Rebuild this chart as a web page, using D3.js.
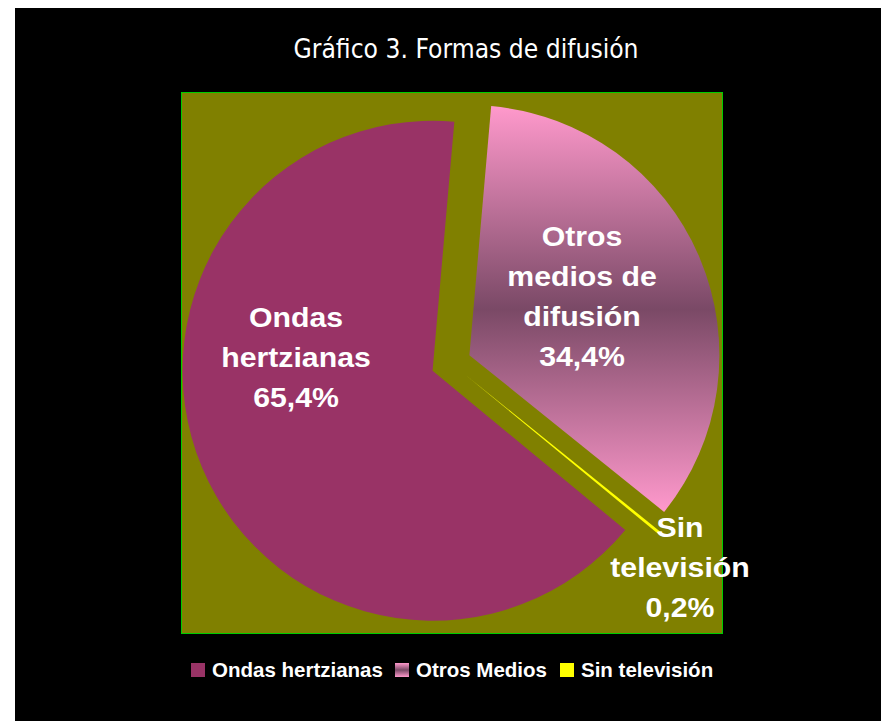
<!DOCTYPE html>
<html>
<head>
<meta charset="utf-8">
<title>Gráfico 3. Formas de difusión</title>
<script src="https://cdn.jsdelivr.net/npm/d3@7"></script>
<style>
  html, body { margin: 0; padding: 0; background: #fff; }
  .title { font-family: Tahoma, "DejaVu Sans", sans-serif; fill: #fff; }
  .lbl { font-family: Arial, "Liberation Sans", sans-serif; font-weight: bold; fill: #fff; }
  .legend text { font-family: Arial, "Liberation Sans", sans-serif; font-weight: bold; fill: #fff; }
</style>
</head>
<body>
<div id="chart"></div>
<script>
var categories = ["Ondas hertzianas", "Otros Medios", "Sin televisión"];
var values = [65.4, 34.4, 0.2];
var sliceLabels = [
  ["Ondas", "hertzianas", "65,4%"],
  ["Otros", "medios de", "difusión", "34,4%"],
  ["Sin", "televisión", "0,2%"]
];
var title = "Gráfico 3. Formas de difusión";

var width = 881, height = 721;
var svg = d3.select("#chart").append("svg")
    .attr("width", width)
    .attr("height", height);

var defs = svg.append("defs");
var grad = defs.append("linearGradient")
    .attr("id", "otros-grad")
    .attr("x1", 0).attr("y1", 0).attr("x2", 0).attr("y2", 1);
grad.append("stop").attr("offset", "0%").attr("stop-color", "#ff99cc");
grad.append("stop").attr("offset", "50%").attr("stop-color", "#7a4966");
grad.append("stop").attr("offset", "100%").attr("stop-color", "#ff99cc");

var fills = ["#993366", "url(#otros-grad)", "#ffff00"];

// background: white margin then black chart area
svg.append("rect").attr("x", 15).attr("y", 8)
    .attr("width", width - 15).attr("height", height - 8)
    .attr("fill", "#000");

svg.append("text").attr("class", "title")
    .attr("x", 466).attr("y", 58)
    .attr("text-anchor", "middle")
    .attr("font-size", 26)
    .attr("textLength", 345)
    .attr("lengthAdjust", "spacingAndGlyphs")
    .text(title);

// plot area
var plot = {x: 181, y: 92, w: 541, h: 541};
svg.append("rect")
    .attr("x", plot.x + 0.5).attr("y", plot.y + 0.5)
    .attr("width", plot.w).attr("height", plot.h)
    .attr("fill", "#808000")
    .attr("stroke", "#00cc00")
    .attr("stroke-width", 1);

var cx = 451, cy = 363, r = 250, explode = 20;
var start = 129.56 * Math.PI / 180;

var pie = d3.pie().sort(null)
    .startAngle(start).endAngle(start + 2 * Math.PI);
var arc = d3.arc().innerRadius(0).outerRadius(r);
var arcs = pie(values);

var g = svg.append("g").attr("transform", "translate(" + cx + "," + cy + ")");

g.selectAll("path.slice")
  .data(arcs)
  .enter().append("path")
    .attr("class", "slice")
    .attr("transform", function(d) {
      var m = (d.startAngle + d.endAngle) / 2;
      return "translate(" + (explode * Math.sin(m)) + "," + (-explode * Math.cos(m)) + ")";
    })
    .attr("fill", function(d, i) { return fills[i]; })
    .attr("d", arc);

// data labels (positions relative to pie centre)
var labelPos = [[-155, 327], [131, 246], [229, 537]];
var lineH = 40;
sliceLabels.forEach(function(lines, i) {
  var t = svg.append("text").attr("class", "lbl")
      .attr("text-anchor", "middle")
      .attr("font-size", 28)
      .attr("transform", "translate(" + (cx + labelPos[i][0]) + ",0) scale(1.08,1)");
  lines.forEach(function(s, j) {
    t.append("tspan").attr("x", 0)
      .attr("y", labelPos[i][1] + j * lineH)
      .text(s);
  });
});

// legend
var legX = [191, 395, 560];
var leg = svg.append("g").attr("class", "legend");
var items = leg.selectAll("g").data(categories).enter().append("g")
    .attr("transform", function(d, i) { return "translate(" + legX[i] + ",663)"; });
items.append("rect")
    .attr("width", 14).attr("height", 14)
    .attr("fill", function(d, i) { return fills[i]; });
items.append("text")
    .attr("x", 21).attr("y", 14)
    .attr("font-size", 20.5)
    .text(function(d) { return d; });
</script>
</body>
</html>
